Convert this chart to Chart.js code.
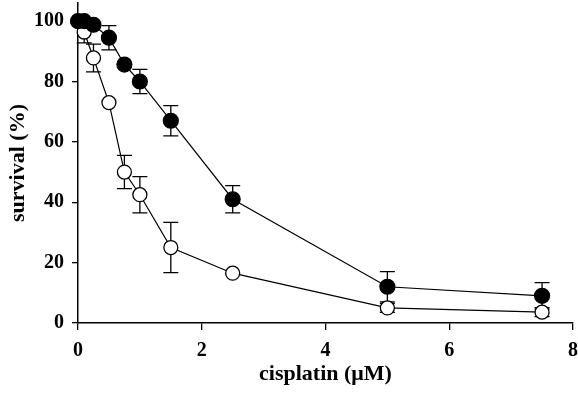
<!DOCTYPE html>
<html>
  <head>
    <title>Cisplatin survival</title>
    <script src="https://cdn.jsdelivr.net/npm/chart.js"></script>
    <style>
      html, body { margin: 0; padding: 0; background: #fff; }
      #wrap { width: 578px; height: 393px; }
    </style>
  </head>
  <body>
    <div id="wrap"><canvas id="survivalChart" width="578" height="393"></canvas></div>

    <script>
      // cisplatin concentration (uM)
      const conc = [0, 0.1, 0.25, 0.5, 0.75, 1, 1.5, 2.5, 5, 7.5];
      // filled circles
      const filledSurvival = [100, 100, 98.8, 94.5, 85.6, 80, 67, 41, 12, 9];
      const filledErr = [0, 0, 0, 4, 0, 4, 5, 4.5, 5, 4.4];
      // open circles
      const openSurvival = [100, 96.4, 87.8, 73, 50, 42.5, 25, 16.5, 5, 3.6];
      const openErr = [0, 3.6, 4.6, 0, 5.5, 6, 8.3, 0, 1.5, 1.5];

      const xTicks = [0, 2, 4, 6, 8];
      const yTicks = [0, 20, 40, 60, 80, 100];

      const tickFont = { family: "'Liberation Serif', 'Times New Roman', serif", size: 20, weight: "bold" };
      const titleFont = { family: "'Liberation Serif', 'Times New Roman', serif", size: 22, weight: "bold" };

      const toPoints = (ys) => conc.map((x, i) => ({ x: x, y: ys[i] }));

      // draws the error bars behind the markers
      const errorBars = {
        id: "errorBars",
        beforeDatasetsDraw(chart) {
          const ctx = chart.ctx;
          const xs = chart.scales.x;
          const ys = chart.scales.y;
          ctx.save();
          ctx.strokeStyle = "#000";
          ctx.lineWidth = 1.3;
          chart.data.datasets.forEach((ds) => {
            ds.data.forEach((p, i) => {
              const e = ds.errors[i];
              if (!e) return;
              const px = xs.getPixelForValue(p.x);
              const top = ys.getPixelForValue(p.y + e);
              const bot = ys.getPixelForValue(p.y - e);
              ctx.beginPath();
              ctx.moveTo(px, top);
              ctx.lineTo(px, bot);
              ctx.moveTo(px - 7.5, top);
              ctx.lineTo(px + 7.5, top);
              ctx.moveTo(px - 7.5, bot);
              ctx.lineTo(px + 7.5, bot);
              ctx.stroke();
            });
          });
          ctx.restore();
        },
      };

      const ctx = document.getElementById("survivalChart").getContext("2d");
      new Chart(ctx, {
        type: "scatter",
        data: {
          datasets: [
            {
              label: "filled",
              data: toPoints(filledSurvival),
              errors: filledErr,
              showLine: true,
              borderColor: "#000",
              borderWidth: 1.2,
              pointBackgroundColor: "#000",
              pointBorderColor: "#000",
              pointBorderWidth: 1.2,
              pointRadius: 7.5,
              clip: false,
            },
            {
              label: "open",
              data: toPoints(openSurvival),
              errors: openErr,
              showLine: true,
              borderColor: "#000",
              borderWidth: 1.2,
              pointBackgroundColor: "#fff",
              pointBorderColor: "#000",
              pointBorderWidth: 1.3,
              pointRadius: 7,
              clip: false,
            },
          ],
        },
        options: {
          responsive: false,
          animation: false,
          layout: { autoPadding: false, padding: { top: 3, right: 5, left: 0, bottom: 0 } },
          plugins: {
            legend: { display: false },
            tooltip: { enabled: false },
          },
          scales: {
            x: {
              type: "linear",
              min: 0,
              max: 8,
              afterBuildTicks: (s) => { s.ticks = xTicks.map((v) => ({ value: v })); },
              afterFit: (s) => { s.height = 70; s.paddingLeft = 0; s.paddingRight = 0; },
              border: { color: "#000", width: 1.5 },
              grid: { drawOnChartArea: false, color: "#000", tickLength: 7, lineWidth: 1.3 },
              ticks: { color: "#000", font: tickFont, padding: 9, maxRotation: 0 },
              title: { display: true, text: "cisplatin (\u03BCM)", color: "#000", font: titleFont, padding: { top: 0, bottom: 5 } },
            },
            y: {
              min: 0,
              max: 106,
              afterBuildTicks: (s) => { s.ticks = yTicks.map((v) => ({ value: v })); },
              afterFit: (s) => { s.width = 78; s.paddingTop = 0; s.paddingBottom = 0; },
              border: { color: "#000", width: 1.5 },
              grid: { drawOnChartArea: false, color: "#000", tickLength: 6, lineWidth: 1.3 },
              ticks: { color: "#000", font: tickFont, padding: 8 },
              title: { display: true, text: "survival (%)", color: "#000", font: titleFont, padding: { top: 5, bottom: 0 } },
            },
          },
        },
        plugins: [errorBars],
      });
    </script>
  </body>
</html>
